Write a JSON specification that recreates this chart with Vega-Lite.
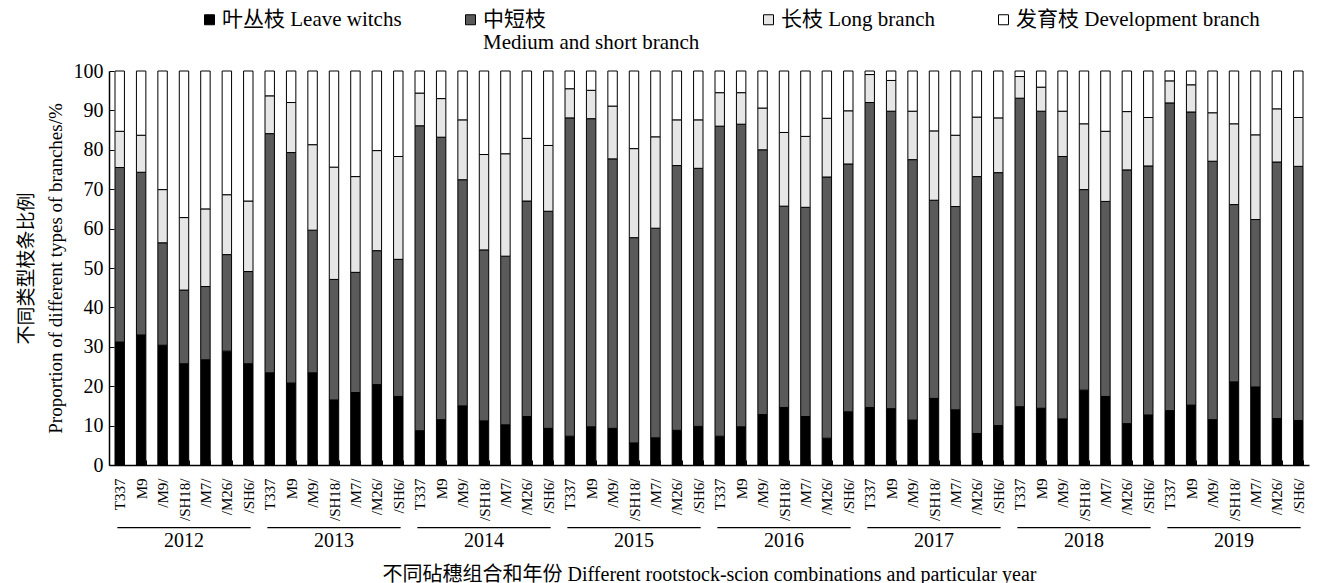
{
  "$schema": "https://vega.github.io/schema/vega-lite/v6.json",
  "width": 1200,
  "height": 394,
  "autosize": {"type": "none"},
  "padding": {"left": 109, "top": 71, "right": 11, "bottom": 118},
  "background": "white",
  "config": {
    "view": {"stroke": null},
    "font": "Liberation Serif, Noto Sans CJK SC",
    "axis": {"labelFont": "Liberation Serif, Noto Sans CJK SC", "titleFont": "Liberation Serif, Noto Sans CJK SC", "titleFontWeight": "normal", "labelColor": "#000", "titleColor": "#000", "domainColor": "#000", "tickColor": "#000", "grid": false},
    "axisY": {"labelOverlap": false, "labelFontSize": 20, "labelPadding": 11, "tickSize": -5, "domainWidth": 1.5}
  },
  "datasets": {
    "bars": [
      {"year": "2012", "combo": "T337", "bar": "2012 T337", "leaf": 31.2, "mid": 44.3, "long": 9.2, "dev": 15.3},
      {"year": "2012", "combo": "M9", "bar": "2012 M9", "leaf": 33.0, "mid": 41.3, "long": 9.4, "dev": 16.3},
      {"year": "2012", "combo": "/M9/", "bar": "2012 /M9/", "leaf": 30.4, "mid": 26.0, "long": 13.5, "dev": 30.1},
      {"year": "2012", "combo": "/SH18/", "bar": "2012 /SH18/", "leaf": 25.7, "mid": 18.7, "long": 18.4, "dev": 37.2},
      {"year": "2012", "combo": "/M7/", "bar": "2012 /M7/", "leaf": 26.7, "mid": 18.6, "long": 19.7, "dev": 35.0},
      {"year": "2012", "combo": "/M26/", "bar": "2012 /M26/", "leaf": 28.9, "mid": 24.5, "long": 15.2, "dev": 31.4},
      {"year": "2012", "combo": "/SH6/", "bar": "2012 /SH6/", "leaf": 25.7, "mid": 23.4, "long": 17.9, "dev": 33.0},
      {"year": "2013", "combo": "T337", "bar": "2013 T337", "leaf": 23.4, "mid": 60.7, "long": 9.6, "dev": 6.3},
      {"year": "2013", "combo": "M9", "bar": "2013 M9", "leaf": 20.8, "mid": 58.5, "long": 12.7, "dev": 8.0},
      {"year": "2013", "combo": "/M9/", "bar": "2013 /M9/", "leaf": 23.4, "mid": 36.2, "long": 21.7, "dev": 18.7},
      {"year": "2013", "combo": "/SH18/", "bar": "2013 /SH18/", "leaf": 16.5, "mid": 30.6, "long": 28.5, "dev": 24.4},
      {"year": "2013", "combo": "/M7/", "bar": "2013 /M7/", "leaf": 18.4, "mid": 30.5, "long": 24.3, "dev": 26.8},
      {"year": "2013", "combo": "/M26/", "bar": "2013 /M26/", "leaf": 20.4, "mid": 34.0, "long": 25.4, "dev": 20.2},
      {"year": "2013", "combo": "/SH6/", "bar": "2013 /SH6/", "leaf": 17.4, "mid": 34.8, "long": 26.1, "dev": 21.7},
      {"year": "2014", "combo": "T337", "bar": "2014 T337", "leaf": 8.7, "mid": 77.4, "long": 8.3, "dev": 5.6},
      {"year": "2014", "combo": "M9", "bar": "2014 M9", "leaf": 11.5, "mid": 71.7, "long": 9.8, "dev": 7.0},
      {"year": "2014", "combo": "/M9/", "bar": "2014 /M9/", "leaf": 15.0, "mid": 57.4, "long": 15.2, "dev": 12.4},
      {"year": "2014", "combo": "/SH18/", "bar": "2014 /SH18/", "leaf": 11.2, "mid": 43.4, "long": 24.2, "dev": 21.2},
      {"year": "2014", "combo": "/M7/", "bar": "2014 /M7/", "leaf": 10.2, "mid": 42.8, "long": 26.0, "dev": 21.0},
      {"year": "2014", "combo": "/M26/", "bar": "2014 /M26/", "leaf": 12.3, "mid": 54.7, "long": 15.9, "dev": 17.1},
      {"year": "2014", "combo": "/SH6/", "bar": "2014 /SH6/", "leaf": 9.3, "mid": 55.1, "long": 16.7, "dev": 18.9},
      {"year": "2015", "combo": "T337", "bar": "2015 T337", "leaf": 7.3, "mid": 80.8, "long": 7.4, "dev": 4.5},
      {"year": "2015", "combo": "M9", "bar": "2015 M9", "leaf": 9.7, "mid": 78.2, "long": 7.2, "dev": 4.9},
      {"year": "2015", "combo": "/M9/", "bar": "2015 /M9/", "leaf": 9.3, "mid": 68.4, "long": 13.4, "dev": 8.9},
      {"year": "2015", "combo": "/SH18/", "bar": "2015 /SH18/", "leaf": 5.6, "mid": 52.1, "long": 22.6, "dev": 19.7},
      {"year": "2015", "combo": "/M7/", "bar": "2015 /M7/", "leaf": 6.9, "mid": 53.2, "long": 23.2, "dev": 16.7},
      {"year": "2015", "combo": "/M26/", "bar": "2015 /M26/", "leaf": 8.8, "mid": 67.2, "long": 11.6, "dev": 12.4},
      {"year": "2015", "combo": "/SH6/", "bar": "2015 /SH6/", "leaf": 9.8, "mid": 65.5, "long": 12.3, "dev": 12.4},
      {"year": "2016", "combo": "T337", "bar": "2016 T337", "leaf": 7.3, "mid": 78.7, "long": 8.5, "dev": 5.5},
      {"year": "2016", "combo": "M9", "bar": "2016 M9", "leaf": 9.7, "mid": 76.8, "long": 8.0, "dev": 5.5},
      {"year": "2016", "combo": "/M9/", "bar": "2016 /M9/", "leaf": 12.8, "mid": 67.2, "long": 10.6, "dev": 9.4},
      {"year": "2016", "combo": "/SH18/", "bar": "2016 /SH18/", "leaf": 14.6, "mid": 51.1, "long": 18.7, "dev": 15.6},
      {"year": "2016", "combo": "/M7/", "bar": "2016 /M7/", "leaf": 12.3, "mid": 53.1, "long": 18.0, "dev": 16.6},
      {"year": "2016", "combo": "/M26/", "bar": "2016 /M26/", "leaf": 6.8, "mid": 66.3, "long": 14.9, "dev": 12.0},
      {"year": "2016", "combo": "/SH6/", "bar": "2016 /SH6/", "leaf": 13.5, "mid": 62.9, "long": 13.5, "dev": 10.1},
      {"year": "2017", "combo": "T337", "bar": "2017 T337", "leaf": 14.6, "mid": 77.4, "long": 7.1, "dev": 0.9},
      {"year": "2017", "combo": "M9", "bar": "2017 M9", "leaf": 14.3, "mid": 75.5, "long": 7.8, "dev": 2.4},
      {"year": "2017", "combo": "/M9/", "bar": "2017 /M9/", "leaf": 11.4, "mid": 66.1, "long": 12.3, "dev": 10.2},
      {"year": "2017", "combo": "/SH18/", "bar": "2017 /SH18/", "leaf": 16.9, "mid": 50.3, "long": 17.6, "dev": 15.2},
      {"year": "2017", "combo": "/M7/", "bar": "2017 /M7/", "leaf": 14.0, "mid": 51.6, "long": 18.1, "dev": 16.3},
      {"year": "2017", "combo": "/M26/", "bar": "2017 /M26/", "leaf": 8.0, "mid": 65.2, "long": 15.1, "dev": 11.7},
      {"year": "2017", "combo": "/SH6/", "bar": "2017 /SH6/", "leaf": 10.0, "mid": 64.2, "long": 13.9, "dev": 11.9},
      {"year": "2018", "combo": "T337", "bar": "2018 T337", "leaf": 14.8, "mid": 78.3, "long": 5.5, "dev": 1.4},
      {"year": "2018", "combo": "M9", "bar": "2018 M9", "leaf": 14.4, "mid": 75.4, "long": 6.1, "dev": 4.1},
      {"year": "2018", "combo": "/M9/", "bar": "2018 /M9/", "leaf": 11.7, "mid": 66.6, "long": 11.5, "dev": 10.2},
      {"year": "2018", "combo": "/SH18/", "bar": "2018 /SH18/", "leaf": 19.0, "mid": 50.9, "long": 16.7, "dev": 13.4},
      {"year": "2018", "combo": "/M7/", "bar": "2018 /M7/", "leaf": 17.4, "mid": 49.5, "long": 17.8, "dev": 15.3},
      {"year": "2018", "combo": "/M26/", "bar": "2018 /M26/", "leaf": 10.5, "mid": 64.4, "long": 14.8, "dev": 10.3},
      {"year": "2018", "combo": "/SH6/", "bar": "2018 /SH6/", "leaf": 12.7, "mid": 63.2, "long": 12.3, "dev": 11.8},
      {"year": "2019", "combo": "T337", "bar": "2019 T337", "leaf": 13.8, "mid": 78.1, "long": 5.6, "dev": 2.5},
      {"year": "2019", "combo": "M9", "bar": "2019 M9", "leaf": 15.2, "mid": 74.4, "long": 6.9, "dev": 3.5},
      {"year": "2019", "combo": "/M9/", "bar": "2019 /M9/", "leaf": 11.5, "mid": 65.6, "long": 12.3, "dev": 10.6},
      {"year": "2019", "combo": "/SH18/", "bar": "2019 /SH18/", "leaf": 21.1, "mid": 45.0, "long": 20.5, "dev": 13.4},
      {"year": "2019", "combo": "/M7/", "bar": "2019 /M7/", "leaf": 19.8, "mid": 42.5, "long": 21.5, "dev": 16.2},
      {"year": "2019", "combo": "/M26/", "bar": "2019 /M26/", "leaf": 11.8, "mid": 65.1, "long": 13.5, "dev": 9.6},
      {"year": "2019", "combo": "/SH6/", "bar": "2019 /SH6/", "leaf": 11.3, "mid": 64.5, "long": 12.4, "dev": 11.8}
    ],
    "years": [
      {"year": "2012", "first": "2012 T337", "last": "2012 /SH6/", "centre": "2012 /SH18/"},
      {"year": "2013", "first": "2013 T337", "last": "2013 /SH6/", "centre": "2013 /SH18/"},
      {"year": "2014", "first": "2014 T337", "last": "2014 /SH6/", "centre": "2014 /SH18/"},
      {"year": "2015", "first": "2015 T337", "last": "2015 /SH6/", "centre": "2015 /SH18/"},
      {"year": "2016", "first": "2016 T337", "last": "2016 /SH6/", "centre": "2016 /SH18/"},
      {"year": "2017", "first": "2017 T337", "last": "2017 /SH6/", "centre": "2017 /SH18/"},
      {"year": "2018", "first": "2018 T337", "last": "2018 /SH6/", "centre": "2018 /SH18/"},
      {"year": "2019", "first": "2019 T337", "last": "2019 /SH6/", "centre": "2019 /SH18/"}
    ]
  },
  "layer": [
    {
      "data": {"name": "bars"},
      "transform": [
        {"fold": ["leaf", "mid", "long", "dev"], "as": ["type", "pct"]},
        {"calculate": "indexof(['leaf', 'mid', 'long', 'dev'], datum.type)", "as": "rank"}
      ],
      "mark": {"type": "bar", "stroke": "#000", "strokeWidth": 1},
      "encoding": {
        "x": {
          "field": "bar", "type": "nominal", "sort": null,
          "scale": {
            "domain": [
              "2012 T337", "2012 M9", "2012 /M9/", "2012 /SH18/", "2012 /M7/", "2012 /M26/", "2012 /SH6/",
              "2013 T337", "2013 M9", "2013 /M9/", "2013 /SH18/", "2013 /M7/", "2013 /M26/", "2013 /SH6/",
              "2014 T337", "2014 M9", "2014 /M9/", "2014 /SH18/", "2014 /M7/", "2014 /M26/", "2014 /SH6/",
              "2015 T337", "2015 M9", "2015 /M9/", "2015 /SH18/", "2015 /M7/", "2015 /M26/", "2015 /SH6/",
              "2016 T337", "2016 M9", "2016 /M9/", "2016 /SH18/", "2016 /M7/", "2016 /M26/", "2016 /SH6/",
              "2017 T337", "2017 M9", "2017 /M9/", "2017 /SH18/", "2017 /M7/", "2017 /M26/", "2017 /SH6/",
              "2018 T337", "2018 M9", "2018 /M9/", "2018 /SH18/", "2018 /M7/", "2018 /M26/", "2018 /SH6/",
              "2019 T337", "2019 M9", "2019 /M9/", "2019 /SH18/", "2019 /M7/", "2019 /M26/", "2019 /SH6/"
            ],
            "paddingInner": 0.56, "paddingOuter": 0.28
          },
          "axis": {
            "title": "不同砧穗组合和年份 Different rootstock-scion combinations and particular year",
            "titleFontSize": 20, "titleY": 109, "titleBaseline": "middle",
            "labelExpr": "split(datum.label, ' ')[1]",
            "labelAngle": -90, "labelFontSize": 15, "labelPadding": 18,
            "tickBand": "extent", "tickSize": -5, "domainWidth": 1.5, "tickWidth": 1
          }
        },
        "y": {
          "field": "pct", "type": "quantitative", "stack": "zero",
          "scale": {"domain": [0, 100], "nice": false},
          "axis": {
            "title": ["不同类型枝条比例", "Proportion of different types of branches/%"],
            "titleFontSize": 19, "titleLineHeight": 29, "titleX": -83, "titleBaseline": "middle",
            "values": [0, 10, 20, 30, 40, 50, 60, 70, 80, 90, 100],
            "labelOverlap": false, "labelBound": false, "labelFontSize": 20, "labelPadding": 11
          }
        },
        "fill": {
          "field": "type", "type": "nominal",
          "scale": {"domain": ["leaf", "mid", "long", "dev"], "range": ["#000000", "#5a5a5a", "#e6e6e6", "#ffffff"]},
          "legend": {
            "orient": "none", "legendX": 90, "legendY": -62,
            "direction": "horizontal", "columns": 4, "columnPadding": 58, "title": null,
            "symbolType": "square", "symbolSize": 100, "symbolStrokeColor": "#000", "symbolStrokeWidth": 1,
            "labelFont": "Liberation Serif, Noto Sans CJK SC", "labelFontSize": 21, "labelColor": "#000",
            "labelLimit": 400, "labelOffset": 2, "labelBaseline": "middle",
            "labelExpr": "datum.value == 'leaf' ? ['叶丛枝 Leave witchs', ''] : datum.value == 'mid' ? ['中短枝', 'Medium and short branch'] : datum.value == 'long' ? ['长枝 Long branch', ''] : ['发育枝 Development branch', '']"
          }
        },
        "order": {"field": "rank", "type": "quantitative"}
      }
    },
    {
      "data": {"name": "years"},
      "mark": {"type": "rule", "color": "#000", "strokeWidth": 1.2},
      "encoding": {
        "x": {"field": "first", "type": "nominal", "bandPosition": 0.25},
        "x2": {"field": "last", "bandPosition": 0.75},
        "y": {
          "datum": -15.9,
          "axis": {
            "title": ["不同类型枝条比例", "Proportion of different types of branches/%"],
            "titleFontSize": 19, "titleLineHeight": 29, "titleX": -83, "titleBaseline": "middle",
            "values": [0, 10, 20, 30, 40, 50, 60, 70, 80, 90, 100],
            "labelOverlap": false, "labelBound": false, "labelFontSize": 20, "labelPadding": 11
          }
        }
      }
    },
    {
      "data": {"name": "years"},
      "mark": {"type": "text", "fontSize": 20, "baseline": "middle", "align": "center", "color": "#000"},
      "encoding": {
        "x": {"field": "centre", "type": "nominal"},
        "y": {
          "datum": -19.3,
          "axis": {
            "title": ["不同类型枝条比例", "Proportion of different types of branches/%"],
            "titleFontSize": 19, "titleLineHeight": 29, "titleX": -83, "titleBaseline": "middle",
            "values": [0, 10, 20, 30, 40, 50, 60, 70, 80, 90, 100],
            "labelOverlap": false, "labelBound": false, "labelFontSize": 20, "labelPadding": 11
          }
        },
        "text": {"field": "year"}
      }
    }
  ]
}
